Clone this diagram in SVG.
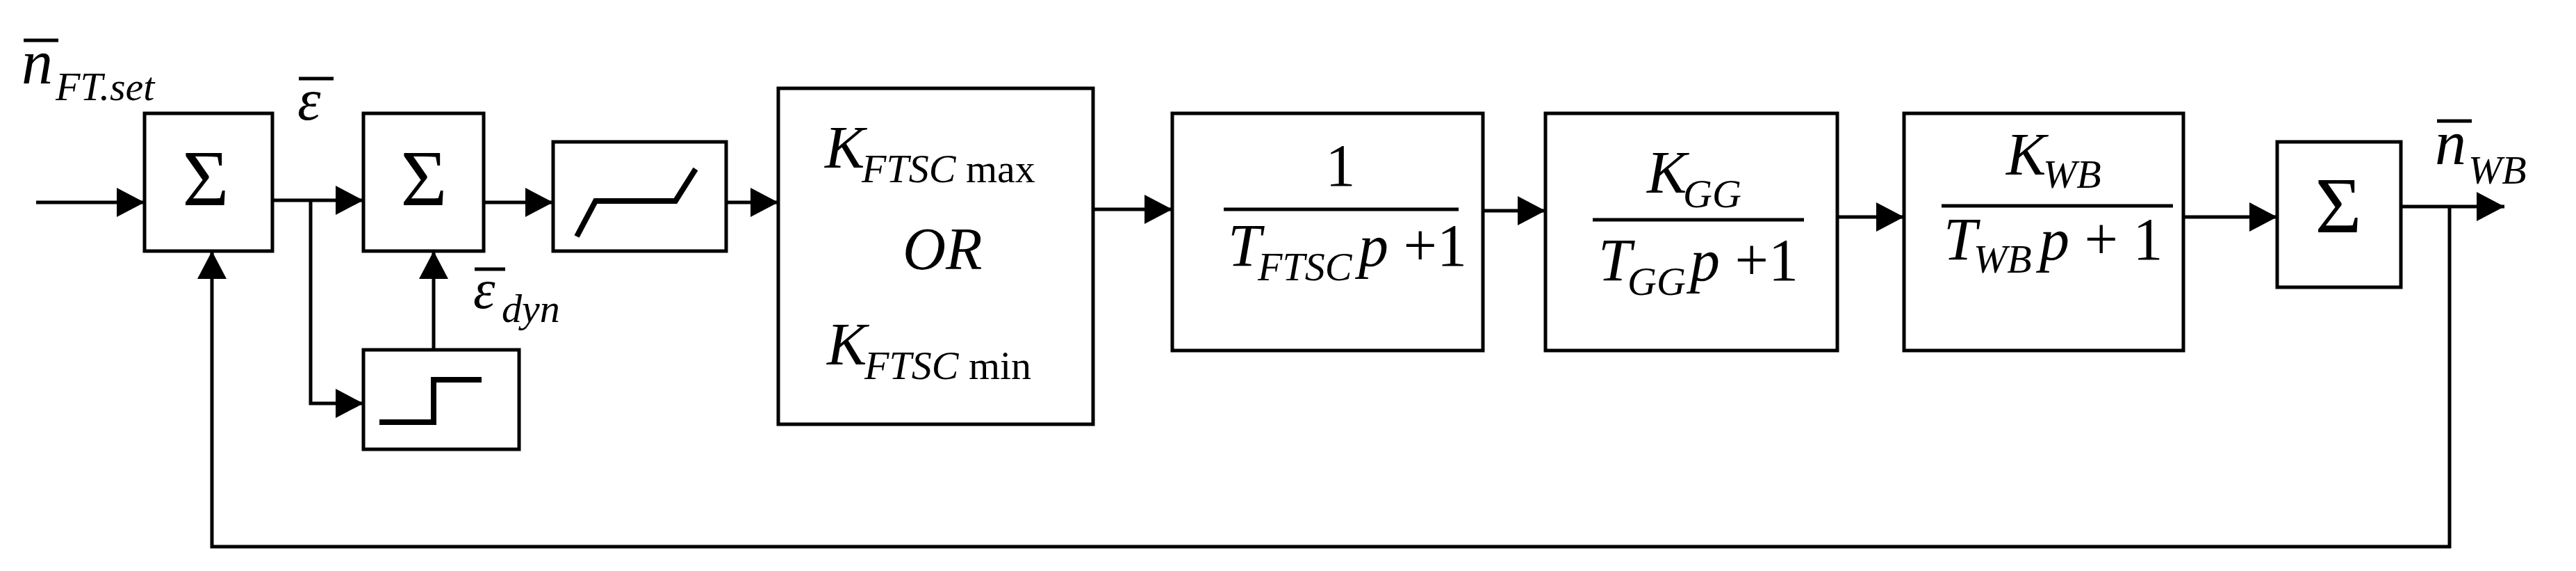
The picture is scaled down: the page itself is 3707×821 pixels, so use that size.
<svg xmlns="http://www.w3.org/2000/svg" width="3707" height="821" viewBox="0 0 3707 821">
<style>
.box{fill:#fff;stroke:#000;stroke-width:5}
.ln{fill:none;stroke:#000;stroke-width:5}
.gl{fill:none;stroke:#000;stroke-width:8}
text{font-family:"Liberation Serif",serif;fill:#000}
.it{font-style:italic}
.m{font-size:86px}
.s{font-size:58px}
.sig{font-size:115px;text-anchor:middle}
</style>
<defs>
<marker id="ah" markerUnits="userSpaceOnUse" markerWidth="42" markerHeight="42" refX="40" refY="21" orient="auto">
<path d="M0,0 L40,21 L0,42 Z" fill="#000"/>
</marker>
</defs>
<rect width="3707" height="821" fill="#fff"/>
<g id="connectors">
<line class="ln" x1="52" y1="291" x2="208" y2="291" marker-end="url(#ah)"/>
<line class="ln" x1="392" y1="288" x2="523" y2="288" marker-end="url(#ah)"/>
<polyline class="ln" points="447,288 447,580 523,580" marker-end="url(#ah)"/>
<line class="ln" x1="624" y1="503" x2="624" y2="361" marker-end="url(#ah)"/>
<line class="ln" x1="696" y1="291" x2="796" y2="291" marker-end="url(#ah)"/>
<line class="ln" x1="1045" y1="291" x2="1120" y2="291" marker-end="url(#ah)"/>
<line class="ln" x1="1573" y1="301" x2="1687" y2="301" marker-end="url(#ah)"/>
<line class="ln" x1="2134" y1="303" x2="2224" y2="303" marker-end="url(#ah)"/>
<line class="ln" x1="2644" y1="312" x2="2740" y2="312" marker-end="url(#ah)"/>
<line class="ln" x1="3142" y1="312" x2="3277" y2="312" marker-end="url(#ah)"/>
<line class="ln" x1="3455" y1="297" x2="3604" y2="297" marker-end="url(#ah)"/>
<polyline class="ln" points="3525,297 3525,786 305,786 305,361" marker-end="url(#ah)"/>
</g>
<g id="label-nset">
<line class="ln" x1="34" y1="58" x2="84" y2="58"/>
<text class="it" x="31" y="120" font-size="90">n</text>
<text class="it s" x="80" y="144">FT.set</text>
</g>
<g id="label-eps">
<line class="ln" x1="430" y1="113" x2="480" y2="113"/>
<text class="it" x="428" y="172" font-size="85">ε</text>
</g>
<g id="label-epsdyn">
<line class="ln" x1="683" y1="387" x2="727" y2="387"/>
<text class="it" x="681" y="443" font-size="80">ε</text>
<text class="it s" x="722" y="463">dyn</text>
</g>
<g id="sum1">
<rect class="box" x="208" y="163" width="184" height="198"/>
<text class="sig" x="296" y="295">Σ</text>
</g>
<g id="sum2">
<rect class="box" x="523" y="163" width="173" height="198"/>
<text class="sig" x="610" y="295">Σ</text>
</g>
<g id="relay">
<rect class="box" x="523" y="503" width="224" height="143"/>
<polyline class="gl" points="546,607 624,607 624,546 693,546"/>
</g>
<g id="limiter">
<rect class="box" x="796" y="204" width="249" height="157"/>
<polyline class="gl" points="830,340 857,289 972,289 1001,243"/>
</g>
<g id="gain">
<rect class="box" x="1120" y="127" width="453" height="483"/>
<text class="it m" x="1187" y="241">K</text>
<text class="s" x="1240" y="262"><tspan class="it">FTSC</tspan> max</text>
<text class="it m" x="1299" y="387">OR</text>
<text class="it m" x="1190" y="524">K</text>
<text class="s" x="1244" y="545"><tspan class="it">FTSC</tspan> min</text>
</g>
<g id="tf1">
<rect class="box" x="1687" y="163" width="447" height="341"/>
<text class="m" x="1929" y="267" text-anchor="middle">1</text>
<line class="ln" x1="1761" y1="301" x2="2099" y2="301"/>
<text class="it m" x="1767" y="382">T</text>
<text class="it s" x="1810" y="403">FTSC</text>
<text class="m" x="1955" y="382"><tspan class="it">p</tspan> +1</text>
</g>
<g id="tf2">
<rect class="box" x="2224" y="163" width="420" height="341"/>
<text class="it m" x="2370" y="277">K</text>
<text class="it s" x="2422" y="298">GG</text>
<line class="ln" x1="2292" y1="316" x2="2596" y2="316"/>
<text class="it m" x="2300" y="403">T</text>
<text class="it s" x="2342" y="424">GG</text>
<text class="m" x="2432" y="403"><tspan class="it">p</tspan> +1</text>
</g>
<g id="tf3">
<rect class="box" x="2740" y="163" width="402" height="341"/>
<text class="it m" x="2887" y="251">K</text>
<text class="it s" x="2940" y="270">WB</text>
<line class="ln" x1="2794" y1="296" x2="3127" y2="296"/>
<text class="it m" x="2797" y="373">T</text>
<text class="it s" x="2840" y="392">WB</text>
<text class="m" x="2935" y="373"><tspan class="it">p</tspan> + 1</text>
</g>
<g id="sum3">
<rect class="box" x="3277" y="204" width="178" height="209"/>
<text class="sig" x="3365" y="334">Σ</text>
</g>
<g id="label-nwb">
<line class="ln" x1="3507" y1="174" x2="3557" y2="174"/>
<text class="it" x="3504" y="236" font-size="90">n</text>
<text class="it s" x="3552" y="264">WB</text>
</g>
</svg>
